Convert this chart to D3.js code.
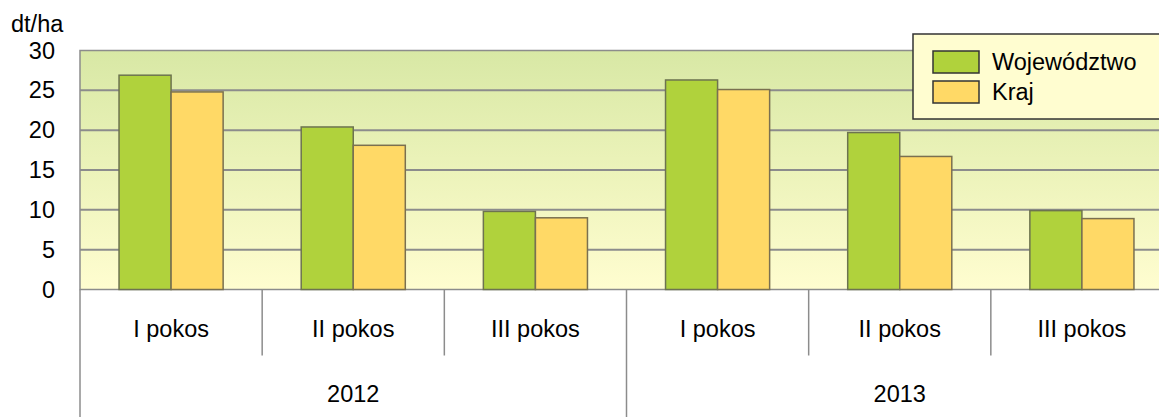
<!DOCTYPE html>
<html>
<head>
<meta charset="utf-8">
<script src="https://cdn.jsdelivr.net/npm/d3@7"></script>
<style>
  body { margin: 0; background: #fff; }
  text { font-family: "Liberation Sans", Arial, sans-serif; fill: #000; }
</style>
</head>
<body>
<svg class="chart" width="1159" height="417"></svg>
<script>
(function() {
  'use strict';

var years = ['2012', '2013'];
var cuts = ['I pokos', 'II pokos', 'III pokos'];
var seriesNames = ['Województwo', 'Kraj'];
var wojewodztwo = [26.9, 20.4, 9.8, 26.3, 19.7, 9.9];
var kraj = [24.8, 18.1, 9.0, 25.1, 16.7, 8.9];
var yTicks = [0, 5, 10, 15, 20, 25, 30];

var colors = ['#B0D23C', '#FFD966'];
var strokes = ['#6d7350', '#7a7050'];
var fontSize = '23.5px';

var margin = {top: 50.5, left: 80},
    plotW = 1093,
    plotH = 239;

var svg = d3.select('.chart');

var defs = svg.append('defs');
var grad = defs.append('linearGradient')
    .attr('id', 'bg')
    .attr('x1', 0).attr('y1', 0).attr('x2', 0).attr('y2', 1);
grad.append('stop').attr('offset', '0%').attr('stop-color', '#D8E8A5');
grad.append('stop').attr('offset', '50%').attr('stop-color', '#ECF3BA');
grad.append('stop').attr('offset', '100%').attr('stop-color', '#FFFDD0');

// flat list of categories
var cats = [];
years.forEach(function(yr) {
  cuts.forEach(function(c) { cats.push({year: yr, cut: c, key: yr + '|' + c}); });
});
cats.forEach(function(d, i) { d.values = [wojewodztwo[i], kraj[i]]; });

var x0 = d3.scaleBand()
    .domain(cats.map(function(d) { return d.key; }))
    .range([0, plotW]);

var xYear = d3.scaleBand()
    .domain(years)
    .range([0, plotW]);

var x1 = d3.scaleBand()
    .domain(seriesNames)
    .range([0, x0.bandwidth()])
    .paddingInner(0)
    .paddingOuter(0.75);

var y = d3.scaleLinear()
    .domain([0, 30])
    .range([plotH, 0]);

var chart = svg.append('g')
    .attr('transform', 'translate(' + margin.left + ',' + margin.top + ')');

chart.append('rect')
    .attr('width', plotW)
    .attr('height', plotH)
    .attr('fill', 'url(#bg)')
    .attr('stroke', '#8c8c8c')
    .attr('stroke-width', 1.5);

// grid lines
chart.selectAll('.grid')
    .data(yTicks.slice(1, -1))
  .enter().append('line')
    .attr('class', 'grid')
    .attr('x1', 0)
    .attr('x2', plotW)
    .attr('y1', function(d) { return y(d); })
    .attr('y2', function(d) { return y(d); })
    .attr('stroke', '#8c8c8c')
    .attr('stroke-width', 2);

// y labels
var yAxis = d3.axisLeft(y)
    .tickValues(yTicks)
    .tickSize(0)
    .tickPadding(25);

chart.append('g')
    .attr('class', 'y axis')
    .call(yAxis)
    .call(function(g) { g.select('.domain').remove(); })
    .selectAll('text')
      .style('font-size', fontSize)
      .style('font-family', '"Liberation Sans", Arial, sans-serif')
      .attr('fill', '#000');

svg.append('text')
    .attr('x', 11)
    .attr('y', 32)
    .style('font-size', fontSize)
    .text('dt/ha');

// bars
var group = chart.selectAll('.cat')
    .data(cats)
  .enter().append('g')
    .attr('class', 'cat')
    .attr('transform', function(d) { return 'translate(' + x0(d.key) + ',0)'; });

group.selectAll('rect')
    .data(function(d) { return d.values.map(function(v, i) { return {name: seriesNames[i], value: v, i: i}; }); })
  .enter().append('rect')
    .attr('x', function(d) { return x1(d.name); })
    .attr('y', function(d) { return y(d.value); })
    .attr('width', x1.bandwidth())
    .attr('height', function(d) { return plotH - y(d.value); })
    .attr('fill', function(d) { return colors[d.i]; })
    .attr('stroke', function(d) { return strokes[d.i]; })
    .attr('stroke-width', 1.5);

// category axis below
var axisG = chart.append('g')
    .attr('transform', 'translate(0,' + plotH + ')');

axisG.selectAll('.catsep')
    .data(cats)
  .enter().append('line')
    .attr('class', 'catsep')
    .attr('x1', function(d) { return x0(d.key); })
    .attr('x2', function(d) { return x0(d.key); })
    .attr('y1', 0)
    .attr('y2', function(d) { return d.cut === cuts[0] ? 130 : 66; })
    .attr('stroke', '#8c8c8c')
    .attr('stroke-width', 1.5);

axisG.selectAll('.catlabel')
    .data(cats)
  .enter().append('text')
    .attr('class', 'catlabel')
    .attr('x', function(d) { return x0(d.key) + x0.bandwidth() / 2; })
    .attr('y', 47)
    .attr('text-anchor', 'middle')
    .style('font-size', fontSize)
    .text(function(d) { return d.cut; });

axisG.selectAll('.yearlabel')
    .data(years)
  .enter().append('text')
    .attr('class', 'yearlabel')
    .attr('x', function(d) { return xYear(d) + xYear.bandwidth() / 2; })
    .attr('y', 112)
    .attr('text-anchor', 'middle')
    .style('font-size', fontSize)
    .text(function(d) { return d; });

// legend
var legend = svg.append('g')
    .attr('transform', 'translate(913,34)');

legend.append('rect')
    .attr('width', 260)
    .attr('height', 85)
    .attr('fill', '#FFFDD0')
    .attr('stroke', '#333')
    .attr('stroke-width', 1.5);

var item = legend.selectAll('.item')
    .data(seriesNames)
  .enter().append('g')
    .attr('class', 'item')
    .attr('transform', function(d, i) { return 'translate(20,' + (17 + i * 30) + ')'; });

item.append('rect')
    .attr('width', 46)
    .attr('height', 22)
    .attr('fill', function(d, i) { return colors[i]; })
    .attr('stroke', '#333')
    .attr('stroke-width', 1.5);

item.append('text')
    .attr('x', 59)
    .attr('y', 19)
    .style('font-size', fontSize)
    .text(function(d) { return d; });

}());
</script>
</body>
</html>
